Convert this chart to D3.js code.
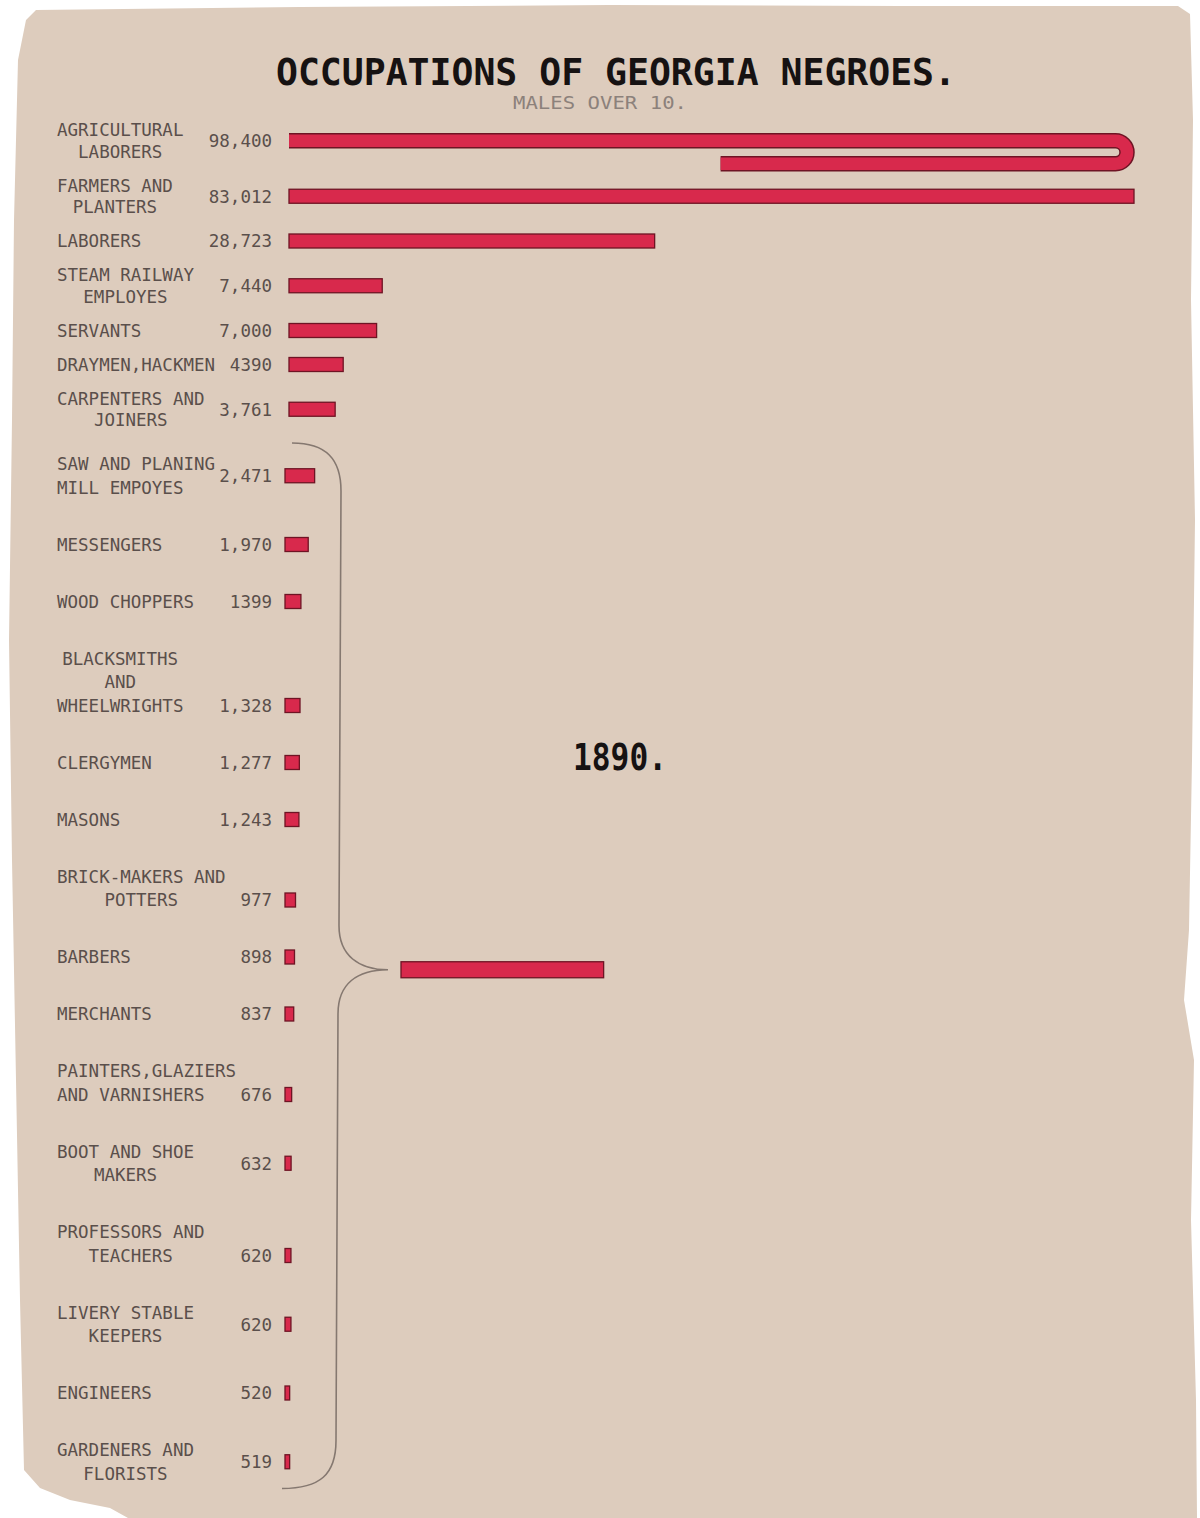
<!DOCTYPE html>
<html>
<head>
<meta charset="utf-8">
<script src="https://cdn.jsdelivr.net/npm/d3@7"></script>
<style>
  html, body { margin: 0; padding: 0; background: #ffffff; }
  svg { display: block; }
</style>
</head>
<body>
<svg id="chart" width="1200" height="1518"></svg>
<script>
// ---------------- DATA ----------------
const categories = [
  ["AGRICULTURAL", "LABORERS"],
  ["FARMERS AND", "PLANTERS"],
  ["LABORERS"],
  ["STEAM RAILWAY", "EMPLOYES"],
  ["SERVANTS"],
  ["DRAYMEN,HACKMEN"],
  ["CARPENTERS AND", "JOINERS"],
  ["SAW AND PLANING", "MILL EMPOYES"],
  ["MESSENGERS"],
  ["WOOD CHOPPERS"],
  ["BLACKSMITHS", "AND", "WHEELWRIGHTS"],
  ["CLERGYMEN"],
  ["MASONS"],
  ["BRICK-MAKERS AND", "POTTERS"],
  ["BARBERS"],
  ["MERCHANTS"],
  ["PAINTERS,GLAZIERS", "AND VARNISHERS"],
  ["BOOT AND SHOE", "MAKERS"],
  ["PROFESSORS AND", "TEACHERS"],
  ["LIVERY STABLE", "KEEPERS"],
  ["ENGINEERS"],
  ["GARDENERS AND", "FLORISTS"]
];
const values = [98400, 83012, 28723, 7440, 7000, 4390, 3761,
  2471, 1970, 1399, 1328, 1277, 1243, 977, 898, 837, 676, 632, 620, 620, 520, 519];
const valueLabels = ["98,400", "83,012", "28,723", "7,440", "7,000", "4390", "3,761",
  "2,471", "1,970", "1399", "1,328", "1,277", "1,243", "977", "898", "837", "676", "632", "620", "620", "520", "519"];
const title = "OCCUPATIONS OF GEORGIA NEGROES.";
const subtitle = "MALES OVER 10.";
const yearLabel = "1890.";
const groupedFrom = 7; // rows from this index are gathered in the brace

// ---------------- LAYOUT ----------------
const W = 1200, H = 1518;
const svg = d3.select("#chart");
const PAPER = "#ddccbd", RED = "#d8294c", EDGE = "#6e1424", INK = "#5a4f4b";
const monoFont = "'DejaVu Sans Mono', 'Liberation Mono', monospace";

// paper sheet with worn edges
const paperPts = [[36,10],[300,7],[610,5],[900,6],[1178,6],[1190,14],[1193,120],[1191,300],[1195,520],
  [1192,760],[1189,930],[1184,1000],[1194,1060],[1191,1220],[1196,1400],[1197,1518],[128,1518],
  [110,1508],[70,1500],[40,1488],[24,1470],[20,1300],[16,1080],[12,860],[9,640],[12,420],[14,220],[18,60],[26,20]];
svg.append("path")
  .attr("d", d3.line().curve(d3.curveLinearClosed)(paperPts))
  .attr("fill", PAPER);

const barAtLast = new Set([10, 13, 16, 18]);   // bar aligned with last label line
const leftAligned = new Set([7, 16]);          // continuation lines left-aligned

// vertical layout of rows, built from the number of label lines
const rows = [];
let prevLast = null;
categories.forEach((lines, i) => {
  const top = i < groupedFrom;
  const lineH = top ? 21.5 : 23.5;
  const gap = i === 0 ? 0 : (top ? 34 : (i === groupedFrom ? 44 : 57));
  const first = i === 0 ? 130 : prevLast + gap;
  const lineYs = lines.map((_, k) => first + k * lineH);
  const last = lineYs[lineYs.length - 1];
  const barY = barAtLast.has(i) ? last : (first + last) / 2;
  rows.push({ i, lines, lineYs, barY, value: values[i], label: valueLabels[i], top });
  prevLast = last;
});

const x = d3.scaleLinear().domain([0, 100000]).range([0, 1280]);
const barLen = v => Math.max(x(v) - 2, 3);
const barH = 14;
const xStartTop = 289, xStartGroup = 285;
const rightLimit = 1134;
const labelX = 57, valueX = 272;

// ---------------- TITLE ----------------
svg.append("text").attr("x", 616).attr("y", 85)
  .attr("text-anchor", "middle")
  .attr("font-family", monoFont).attr("font-weight", "bold").attr("font-size", 37)
  .attr("textLength", 680).attr("lengthAdjust", "spacingAndGlyphs")
  .attr("fill", "#161212").text(title);
svg.append("text").attr("x", 600).attr("y", 109)
  .attr("text-anchor", "middle")
  .attr("font-family", monoFont).attr("font-size", 17)
  .attr("textLength", 174).attr("lengthAdjust", "spacingAndGlyphs")
  .attr("fill", "#8c817b").text(subtitle);

// ---------------- LABELS ----------------
const labelG = svg.append("g");
rows.forEach(r => {
  const g = labelG.append("g");
  const texts = r.lines.map((t, k) => g.append("text")
    .attr("x", labelX).attr("y", r.lineYs[k]).attr("dy", "0.36em")
    .attr("font-family", monoFont).attr("font-size", 17.5)
    .attr("fill", INK).text(t));
  const widths = texts.map(t => t.node().getComputedTextLength());
  const maxW = d3.max(widths);
  texts.forEach((t, k) => {
    if (!leftAligned.has(r.i)) t.attr("x", labelX + (maxW - widths[k]) / 2);
  });
  g.append("text")
    .attr("x", valueX).attr("y", r.barY).attr("dy", "0.36em")
    .attr("text-anchor", "end")
    .attr("font-family", monoFont).attr("font-size", 17.5)
    .attr("fill", INK).text(r.label);
});

// ---------------- BARS ----------------
const barG = svg.append("g");
rows.forEach(r => {
  const x0 = r.top ? xStartTop : xStartGroup;
  const len = barLen(r.value);
  if (r.i === 0) {
    // longest bar folds back on itself at the right edge of the sheet
    const rad = 11.5;
    const turnX = rightLimit - barH / 2 - rad;
    const firstLeg = turnX - x0;
    const back = len - firstLeg - Math.PI * rad;
    const d = `M${x0},${r.barY} H${turnX} A${rad},${rad} 0 0 1 ${turnX},${r.barY + 2 * rad} H${turnX - back}`;
    barG.append("path").attr("d", d).attr("fill", "none")
      .attr("stroke", EDGE).attr("stroke-width", barH + 1.5);
    barG.append("path").attr("d", d).attr("fill", "none")
      .attr("stroke", RED).attr("stroke-width", barH - 1.5);
  } else {
    const w = Math.min(len, rightLimit - x0);
    barG.append("rect")
      .attr("x", x0).attr("y", r.barY - barH / 2)
      .attr("width", w).attr("height", barH)
      .attr("fill", RED).attr("stroke", EDGE).attr("stroke-width", 1.3);
  }
});

// ---------------- BRACE + SUM BAR ----------------
const grouped = rows.filter(r => !r.top);
const bTop = grouped[0].lineYs[0] - 21;
const gl = grouped[grouped.length - 1];
const bBot = gl.lineYs[gl.lineYs.length - 1] + 15;
const bMid = (bTop + bBot) / 2 + 4;
const vx = 341, vx2 = 336, tipX = 388;
const brace = `M292,${bTop} C326,${bTop} ${vx},${bTop + 16} ${vx},${bTop + 48}
  L${vx - 2},${bMid - 44} C${vx - 2},${bMid - 14} ${vx + 18},${bMid} ${tipX},${bMid}
  C${vx + 16},${bMid} ${vx - 3},${bMid + 14} ${vx - 3},${bMid + 44}
  L${vx2},${bBot - 48} C${vx2},${bBot - 14} ${vx2 - 16},${bBot} 282,${bBot}`;
svg.append("path").attr("d", brace).attr("fill", "none")
  .attr("stroke", "#857870").attr("stroke-width", 1.6);

const groupSum = d3.sum(grouped, r => r.value);
svg.append("rect")
  .attr("x", 401).attr("y", bMid - 8)
  .attr("width", barLen(groupSum)).attr("height", 16)
  .attr("fill", RED).attr("stroke", EDGE).attr("stroke-width", 1.3);

// ---------------- YEAR ----------------
svg.append("text").attr("x", 620).attr("y", 770)
  .attr("text-anchor", "middle")
  .attr("font-family", monoFont).attr("font-weight", "bold").attr("font-size", 38)
  .attr("textLength", 94).attr("lengthAdjust", "spacingAndGlyphs")
  .attr("fill", "#161212").text(yearLabel);
</script>
</body>
</html>
